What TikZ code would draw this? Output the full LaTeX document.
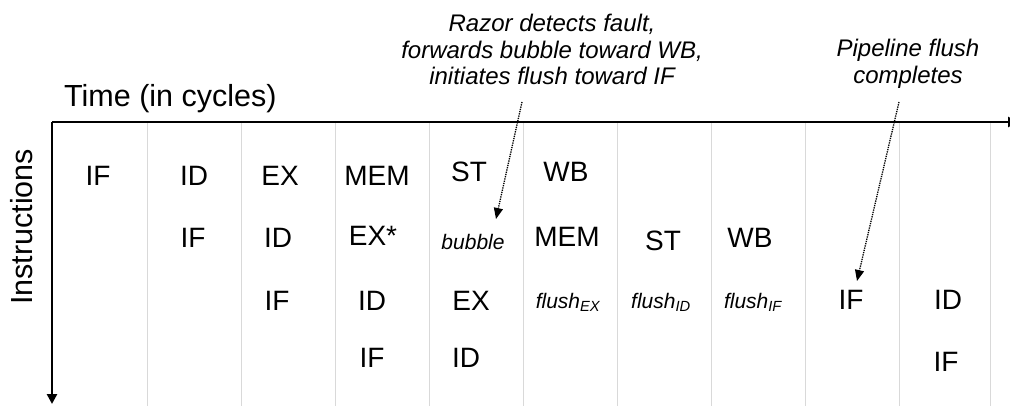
\documentclass[tikz,border=0pt]{standalone}
\usepackage{fontspec}
\setmainfont{Liberation Sans}
\usetikzlibrary{arrows.meta}
\begin{document}
\begin{tikzpicture}[x=1pt,y=-1pt,
  stage/.style={inner sep=0pt,font=\fontsize{28}{32}\selectfont},
  minor/.style={inner sep=0pt,font=\fontsize{21}{24}\selectfont\itshape},
  note/.style={inner sep=0pt,align=center,font=\fontsize{24}{26.5}\selectfont\itshape},
  axislabel/.style={inner sep=0pt,font=\fontsize{30.5}{34}\selectfont},
  axis/.style={line width=2.6pt},
  cycleline/.style={draw=black!15,line width=1pt},
  pointer/.style={densely dotted,line width=1.3pt,-{Triangle[length=11pt,width=9pt]}}]

\useasboundingbox (0,0) rectangle (1010,406);

% cycle separators
\foreach \x in {147,241,335,429,523,617,711,805,899,990}
  \draw[cycleline] (\x,122) -- (\x,406);

% axes
\coordinate (origin) at (52,122);
\coordinate (tend) at (1018,122);
\coordinate (iend) at (52,404);
\draw[axis,-{Triangle[length=10pt,width=10pt]}] (origin) -- (tend);
\draw[axis,-{Triangle[length=10pt,width=10pt]}] (origin) -- (iend);

\node[axislabel,anchor=base west] (time) at (64,107) {Time (in cycles)};
\node[axislabel,rotate=90] (instr) at (22,227) {Instructions};

% instruction 1
\node[stage] (a1) at (98,176) {IF};
\node[stage] (a2) at (194,176) {ID};
\node[stage] (a3) at (280,176) {EX};
\node[stage] (a4) at (377,176) {MEM};
\node[stage] (a5) at (469,172) {ST};
\node[stage] (a6) at (566,172) {WB};

% instruction 2
\node[stage] (b2) at (193,238) {IF};
\node[stage] (b3) at (278,238) {ID};
\node[stage] (b4) at (373,236) {EX*};
\node[minor] (b5) at (473,242) {bubble};
\node[stage] (b6) at (567,237) {MEM};
\node[stage] (b7) at (663,241) {ST};
\node[stage] (b8) at (750,238) {WB};

% instruction 3
\node[stage] (c3) at (277,301) {IF};
\node[stage] (c4) at (372,301) {ID};
\node[stage] (c5) at (471,301) {EX};
\node[minor] (c6) at (568,302) {flush\textsubscript{EX}};
\node[minor] (c7) at (661,302) {flush\textsubscript{ID}};
\node[minor] (c8) at (753,302) {flush\textsubscript{IF}};
\node[stage] (c9) at (851,300) {IF};
\node[stage] (c10) at (948,300) {ID};

% instruction 4
\node[stage] (d4) at (372,358) {IF};
\node[stage] (d5) at (466,358) {ID};
\node[stage] (d10) at (946,362) {IF};

% annotations
\node[note,anchor=north] (razor) at (552,14)
  {Razor detects fault,\\forwards bubble toward WB,\\initiates flush toward IF};
\node[note,anchor=north] (done) at (908,39) {Pipeline flush\\completes};

\coordinate (razortail) at (522,102);
\coordinate (razortip) at (496,219);
\coordinate (donetail) at (899,102);
\coordinate (donetip) at (857,281);
\draw[pointer] (razortail) -- (razortip);
\draw[pointer] (donetail) -- (donetip);
\end{tikzpicture}
\end{document}
